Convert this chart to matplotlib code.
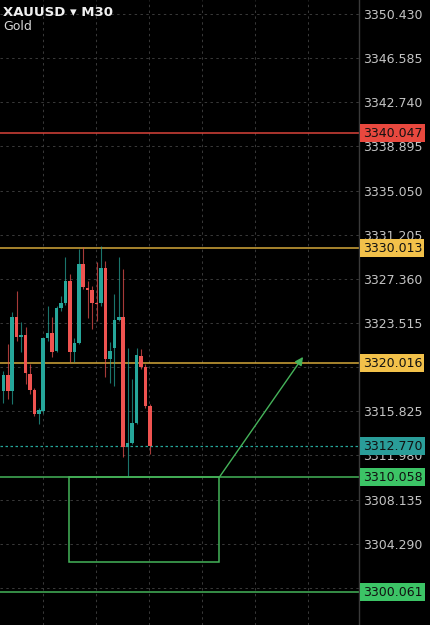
import matplotlib
matplotlib.use("Agg")
import matplotlib.pyplot as plt
from matplotlib.patches import Rectangle
from matplotlib.transforms import blended_transform_factory

# ---- data ----
opens  = [3317.60, 3319.00, 3317.60, 3324.06, 3322.26, 3322.43, 3319.06, 3317.66, 3315.62, 3315.86,
          3322.17, 3322.67, 3321.04, 3324.82, 3325.28, 3327.15, 3321.01, 3321.79, 3328.66, 3326.54,
          3326.39, 3325.30, 3325.26, 3328.28, 3320.37, 3321.30, 3323.80, 3324.06, 3312.71, 3313.06,
          3314.84, 3320.60, 3319.64, 3316.29]
highs  = [3319.35, 3321.68, 3324.44, 3326.33, 3323.57, 3323.13, 3319.93, 3317.89, 3316.15, 3322.20,
          3325.02, 3324.00, 3325.02, 3325.90, 3329.24, 3327.79, 3322.20, 3329.97, 3330.11, 3327.20,
          3326.77, 3328.81, 3330.26, 3328.95, 3321.82, 3326.04, 3329.24, 3328.22, 3321.38, 3318.62,
          3321.38, 3321.24, 3319.93, 3316.44]
lows   = [3316.58, 3316.87, 3316.44, 3321.97, 3320.95, 3318.18, 3317.31, 3315.42, 3314.69, 3315.71,
          3321.97, 3320.57, 3320.95, 3324.59, 3325.11, 3320.08, 3320.08, 3321.68, 3326.48, 3323.99,
          3322.99, 3323.72, 3325.02, 3318.77, 3318.33, 3318.04, 3323.71, 3311.84, 3310.06, 3312.95,
          3314.69, 3319.49, 3316.15, 3312.07]
closes = [3319.00, 3317.60, 3324.06, 3322.26, 3322.43, 3319.12, 3317.66, 3315.56, 3315.91, 3322.17,
          3322.67, 3321.01, 3324.82, 3325.28, 3327.15, 3321.01, 3321.79, 3328.66, 3326.62, 3326.39,
          3325.26, 3325.20, 3328.28, 3320.37, 3321.04, 3323.80, 3324.06, 3312.71, 3313.06, 3314.84,
          3320.74, 3319.64, 3316.29, 3312.77]

y_ticks = [3350.430, 3346.585, 3342.740, 3338.895, 3335.050, 3331.205, 3327.360,
           3323.515, 3319.670, 3315.825, 3311.980, 3308.135, 3304.290, 3300.445]

red_level = 3340.047
yellow_levels = [3330.013, 3320.016]
green_levels = [3310.058, 3300.061]
last_price = 3312.770

box_x = [14.8, 48.6]
box_y = [3302.66, 3310.058]
arrow_start = (48.6, 3310.058)
arrow_end = (67.5, 3320.56)

symbol = "XAUUSD"
timeframe = "M30"
name = "Gold"

# ---- style ----
BG = "#000000"
UP = "#26a69a"
DOWN = "#ef5350"
GRID = "#3a3a3a"
TICK_C = "#c4c4c4"
RED_L = "#d9433a"
YEL_L = "#d4a83a"
GRN_L = "#45b35a"

fig = plt.figure(figsize=(4.31, 6.25), dpi=100, facecolor=BG)
ax = fig.add_axes([0, 0, 359 / 431, 1])
ax.set_facecolor(BG)
ax.set_xlim(-0.743, 80.1)
ax.set_ylim(3297.21, 3351.65)

for s in ["top", "left", "bottom"]:
    ax.spines[s].set_visible(False)
ax.spines["right"].set_color("#3a3a3a")
ax.spines["right"].set_linewidth(1)

ax.yaxis.tick_right()
ax.set_yticks(y_ticks)
ax.set_yticklabels([f"{v:.3f}" for v in y_ticks])
ax.tick_params(axis="y", length=0, pad=3, labelcolor=TICK_C, labelsize=9)
ax.set_xticks([8.9, 20.9, 32.8, 44.8, 56.7, 68.6])
ax.tick_params(axis="x", length=0, labelbottom=False)
ax.grid(True, color=GRID, linestyle=(0, (2.5, 3.5)), linewidth=0.7)
ax.set_axisbelow(True)

# candles
for i, (o, h, l, c) in enumerate(zip(opens, highs, lows, closes)):
    col = UP if c >= o else DOWN
    ax.vlines(i, l, h, color=col, linewidth=0.8, alpha=0.7, zorder=3)
    bottom = min(o, c)
    height = max(abs(c - o), 0.08)
    ax.add_patch(Rectangle((i - 0.4, bottom), 0.8, height, facecolor=col,
                           edgecolor="none", zorder=4))

# levels
ax.axhline(red_level, color=RED_L, linewidth=1.1, zorder=2)
for lv in yellow_levels:
    ax.axhline(lv, color=YEL_L, linewidth=1.1, zorder=2)
for lv in green_levels:
    ax.axhline(lv, color=GRN_L, linewidth=1.1, zorder=2)
ax.axhline(last_price, color=UP, linewidth=0.9, linestyle=(0, (2, 2)), zorder=2)

# box and arrow
ax.add_patch(Rectangle((box_x[0], box_y[0]), box_x[1] - box_x[0], box_y[1] - box_y[0],
                       facecolor="none", edgecolor=GRN_L, linewidth=1.1, zorder=5))
ax.annotate("", xy=arrow_end, xytext=arrow_start,
            arrowprops=dict(arrowstyle="-|>", color=GRN_L, lw=1.0,
                            mutation_scale=12, shrinkA=0, shrinkB=0), zorder=6)

# price labels
trans = blended_transform_factory(ax.transAxes, ax.transData)
def price_label(v, fc, tc="#111111"):
    ax.text(1.01, v, f"{v:.3f}", transform=trans, ha="left", va="center",
            fontsize=9, color=tc, clip_on=False, zorder=20,
            bbox=dict(boxstyle="square,pad=0.2", facecolor=fc, edgecolor="none"))

price_label(red_level, "#e8483e")
for lv in yellow_levels:
    price_label(lv, "#f2c14a")
price_label(last_price, "#2a9d99")
for lv in green_levels:
    price_label(lv, "#3cc466")

# title
fig.text(3 / 431, 1 - 12 / 625, f"{symbol} \u25BE {timeframe}", color="#f0f0f0",
         fontsize=9.5, ha="left", va="center", fontweight="bold")
fig.text(3 / 431, 1 - 26 / 625, name, color="#d8d8d8", fontsize=9, ha="left", va="center")

fig.savefig("out.png", dpi=100, facecolor=BG)
